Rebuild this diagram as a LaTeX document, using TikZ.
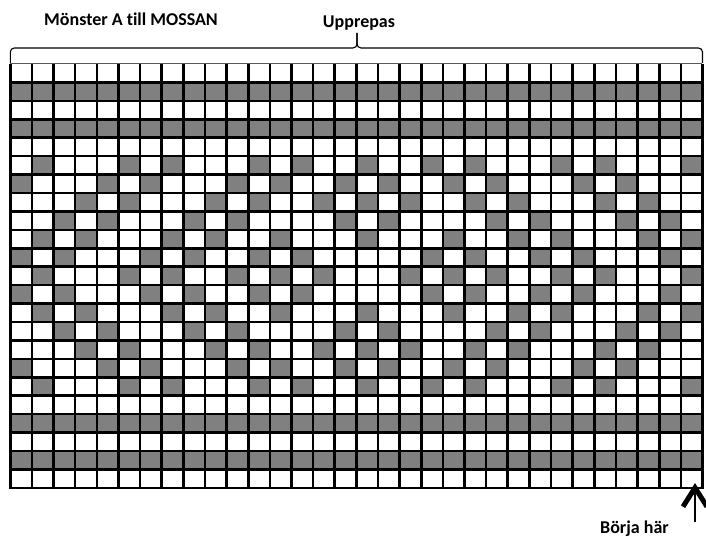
\documentclass[tikz,border=0pt]{standalone}
\usepackage{fontspec}
\setmainfont{Carlito}[Ligatures=NoCommon]
\usetikzlibrary{arrows.meta, positioning}
\definecolor{cellG}{HTML}{808080}
\definecolor{grayA}{HTML}{5A5A5A}
\tikzset{
  cellfill/.style={fill=cellG},
  gridline/.style={draw=black, line width=2.6pt},
  rowline/.style={gridline, line cap=rect},
  topline/.style={draw=grayA, line width=0.9pt},
  bracepath/.style={draw=black, line width=1.1pt, rounded corners=4pt},
  label/.style={font=\fontsize{18}{21}\selectfont\bfseries, inner sep=0pt},
  startarrow/.style={-{Straight Barb[length=19pt, width=24pt, line width=5pt]}, line width=2.8pt}
}

\begin{document}
\begin{tikzpicture}[x=1pt, y=-1pt]
  \useasboundingbox (0,0) rectangle (706,537);

  \begin{scope}[shift={(10.3,64)}, x=21.63pt, y=-18.43pt]
    \foreach \r in {2,4,20,22}
      \fill[cellfill] (0,\r-1) rectangle (32,\r);
    \foreach \r/\cs in {
        6/{2,6,8,12,14,17,20,22,26,28,32},
        7/{1,5,7,11,13,16,18,21,23,27,29},
        8/{4,6,10,12,15,17,19,22,24,28,30},
        9/{3,5,9,11,16,18,23,25,29,31},
        10/{2,4,8,10,13,17,21,24,26,30,32},
        11/{1,3,7,9,12,14,20,22,25,27,31},
        12/{2,6,8,11,13,15,19,21,23,26,28,32}}
      \foreach \c in \cs {
        \fill[cellfill] (\c-1,\r-1) rectangle (\c,\r);
        \fill[cellfill] (\c-1,23-\r) rectangle (\c,24-\r);
      }

    \foreach \i in {0,...,32}
      \draw[gridline] (\i,0) -- (\i,23);
    \foreach \j in {1,...,23}
      \draw[rowline] (0,\j) -- (32,\j);
    \draw[topline] (0,-0.05) -- (32,-0.05);
  \end{scope}

  \coordinate (braceL) at (10.3,63);
  \coordinate (braceR) at (702.5,63);
  \coordinate (braceMid) at (357,48);
  \coordinate (braceTip) at (357,33);
  \draw[bracepath] (braceL) |- (braceMid) -- (braceTip);
  \draw[bracepath] (braceR) |- (braceMid) -- (braceTip);

  \node[label, above=2.5pt of braceTip, xshift=2pt] (repeatlabel) {Upprepas};
  \node[label, anchor=base] (patternlabel) at (131,26) {Mönster A till MOSSAN};
  \node[label, anchor=base] (startlabel) at (634.5,533) {Börja här};

  \coordinate (arrowtail) at (695,522);
  \coordinate (arrowtip) at (695,483);
  \draw[startarrow] (arrowtail) -- (arrowtip);
\end{tikzpicture}
\end{document}
